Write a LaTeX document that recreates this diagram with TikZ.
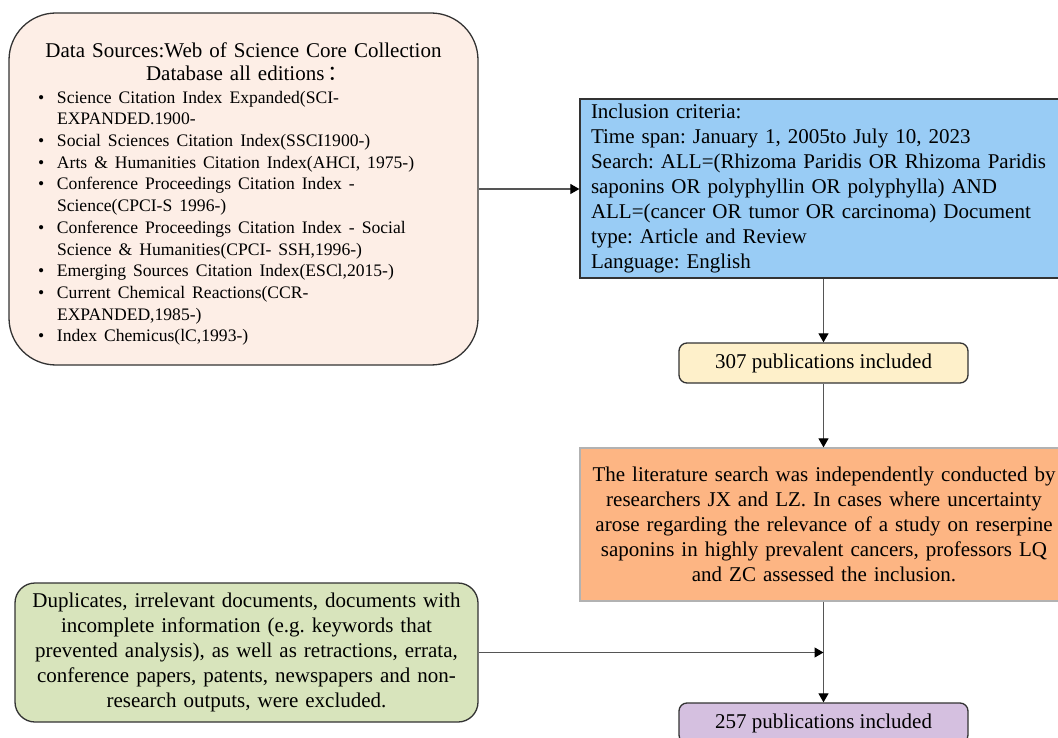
\documentclass[tikz,border=0pt]{standalone}
\usepackage{fontspec}
\setmainfont{Liberation Serif}
\newfontfamily\cjk{Noto Sans CJK SC}
\usetikzlibrary{arrows.meta}
\definecolor{srcfill}{HTML}{FDEEE6}
\definecolor{bluefill}{HTML}{99CCF5}
\definecolor{creamfill}{HTML}{FEF0CA}
\definecolor{orangefill}{HTML}{FDB583}
\definecolor{lavfill}{HTML}{D5C0E0}
\definecolor{greenfill}{HTML}{D8E4BC}
\definecolor{edgegray}{HTML}{333333}
\definecolor{linegray}{HTML}{555555}
\newcommand{\srcitem}{\makebox[19pt][l]{•}}
\newcommand{\srcwrap}{\hspace*{19pt}}
\tikzset{
  boxbase/.style={draw=edgegray, line width=1.3pt, inner sep=0pt, font=\fontsize{21}{25}\selectfont},
  conn/.style={draw=linegray, line width=1.2pt, -{Triangle[length=9pt,width=10pt,color=black]}},
}
\begin{document}
\frenchspacing
\begin{tikzpicture}[x=1pt,y=-1pt]
\useasboundingbox (0,0) rectangle (1058,738);
\fill[white] (0,0) rectangle (1058,738);

% Data sources box
\node[boxbase, fill=srcfill, rounded corners=47pt, minimum width=469pt, minimum height=352pt,
      text width=411pt, align=left, font=\fontsize{21}{23}\selectfont] (src) at (243.5,189) {%
\makebox[\linewidth][c]{\rule{0pt}{25pt}Data Sources:Web of Science Core Collection}\\
\makebox[\linewidth][c]{\hspace*{8pt}Database all editions\,{\cjk ：}}\\[1pt]
{\fontsize{17.6}{21.7}\selectfont
\srcitem Science Citation Index Expanded(SCI-\\
\srcwrap EXPANDED.1900-\\
\srcitem Social Sciences Citation Index(SSCI1900-)\\
\srcitem Arts \& Humanities Citation Index(AHCI, 1975-)\\
\srcitem Conference Proceedings Citation Index -\\
\srcwrap Science(CPCI-S 1996-)\\
\srcitem Conference Proceedings Citation Index - Social\\
\srcwrap Science \& Humanities(CPCI- SSH,1996-)\\
\srcitem Emerging Sources Citation Index(ESCl,2015-)\\
\srcitem Current Chemical Reactions(CCR-\\
\srcwrap EXPANDED,1985-)\\
\srcitem Index Chemicus(lC,1993-)\par}};

% Inclusion criteria box
\node[boxbase, fill=bluefill, minimum width=488pt, minimum height=179pt,
      text width=466pt, inner xsep=11pt, align=left] (crit) at (824,188.5) {%
Inclusion criteria:\\
Time span: January 1, 2005to July 10, 2023\\
Search: ALL=(Rhizoma Paridis OR Rhizoma Paridis\\
saponins OR polyphyllin OR polyphylla) AND\\
ALL=(cancer OR tumor OR carcinoma) Document\\
type: Article and Review\\
Language: English};

% 307 box
\node[boxbase, fill=creamfill, rounded corners=8pt, minimum width=289pt, minimum height=40pt] (p307) at (823.5,363) {307 publications included};

% Orange box
\node[boxbase, draw=gray!60, fill=orangefill, minimum width=488pt, minimum height=153pt,
      text width=480pt, align=center] (search) at (824,524.5) {%
The literature search was independently conducted by\\
researchers JX and LZ. In cases where uncertainty\\
arose regarding the relevance of a study on reserpine\\
saponins in highly prevalent cancers, professors LQ\\
and ZC assessed the inclusion.};

% 257 box
\node[boxbase, fill=lavfill, rounded corners=8pt, minimum width=289pt, minimum height=40pt] (p257) at (823.5,723) {257 publications included};

% Exclusion box
\node[boxbase, fill=greenfill, rounded corners=20pt, minimum width=463pt, minimum height=139pt,
      text width=450pt, align=center] (excl) at (246.5,652.5) {%
Duplicates, irrelevant documents, documents with\\
incomplete information (e.g. keywords that\\
prevented analysis), as well as retractions, errata,\\
conference papers, patents, newspapers and non-\\
research outputs, were excluded.};

\coordinate (join) at (p257.north |- excl.east);

\draw[conn] (src.east) -- (src.east -| crit.west);
\draw[conn] (crit.south -| p307.north) -- (p307.north);
\draw[conn] (p307.south) -- (p307.south |- search.north);
\draw[conn] (p307.south |- search.south) -- (p257.north);
\draw[conn] (excl.east) -- (join);
\end{tikzpicture}
\end{document}
